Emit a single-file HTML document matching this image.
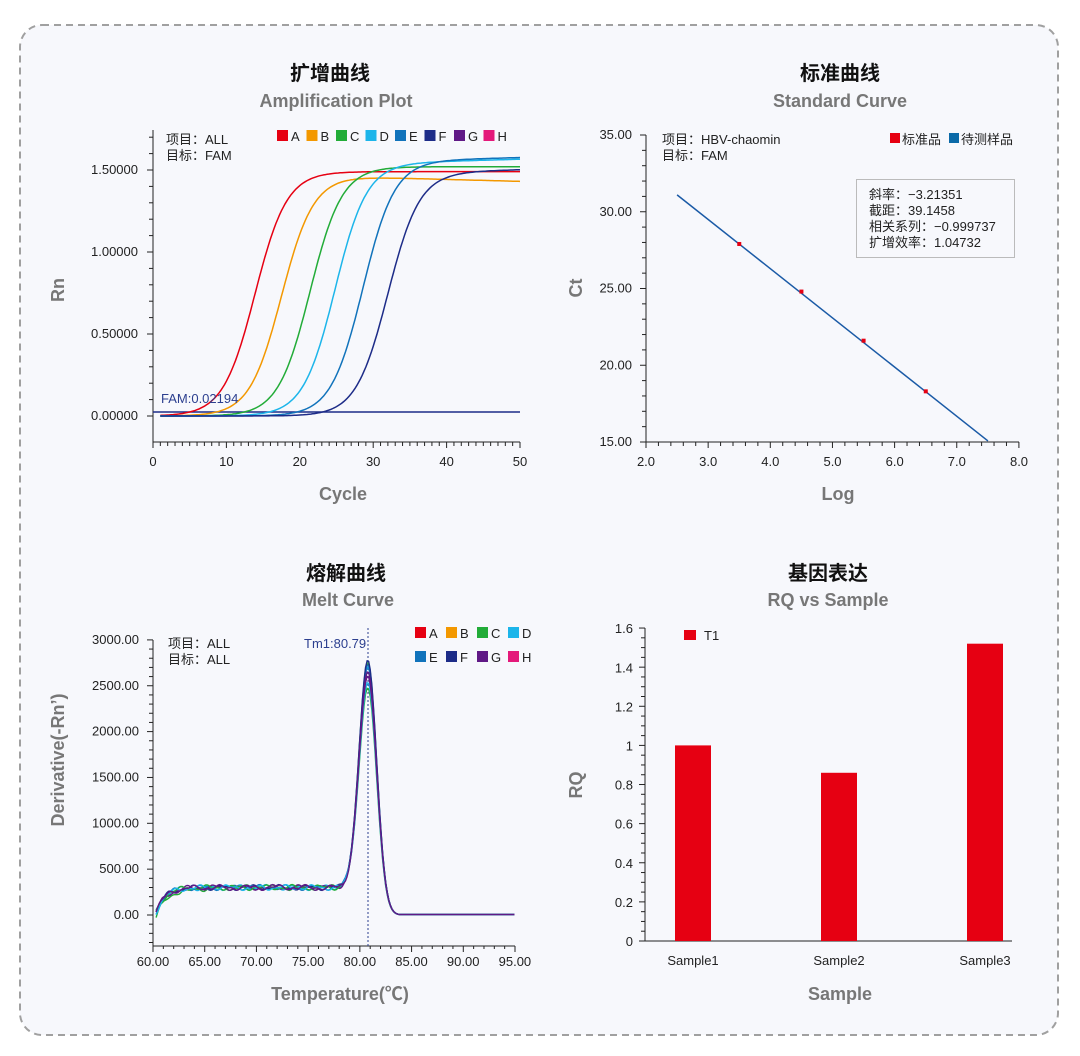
<!DOCTYPE html>
<html><head><meta charset="utf-8"><style>
html,body{margin:0;padding:0;background:#fff;}
svg{display:block;font-family:"Liberation Sans","Noto Sans CJK SC",sans-serif;}
</style></head><body>
<svg id="s" width="1080" height="1056" viewBox="0 0 1080 1056" xmlns="http://www.w3.org/2000/svg">
<rect x="20" y="25" width="1038" height="1010" rx="22" fill="#f7f8fc" stroke="#a0a0a0" stroke-width="2" stroke-dasharray="7,5"/>
<g font-weight="bold" text-anchor="middle">
<text x="330" y="80" font-size="20" fill="#111">扩增曲线</text>
<text x="336" y="107" font-size="18" fill="#777">Amplification Plot</text>
<text x="840" y="80" font-size="20" fill="#111">标准曲线</text>
<text x="840" y="107" font-size="18" fill="#777">Standard Curve</text>
<text x="346" y="580" font-size="20" fill="#111">熔解曲线</text>
<text x="348" y="606" font-size="18" fill="#777">Melt Curve</text>
<text x="828" y="580" font-size="20" fill="#111">基因表达</text>
<text x="828" y="606" font-size="18" fill="#777">RQ vs Sample</text>
<text x="343" y="500" font-size="18" fill="#777">Cycle</text>
<text x="838" y="500" font-size="18" fill="#777">Log</text>
<text x="340" y="1000" font-size="18" fill="#777">Temperature(℃)</text>
<text x="840" y="1000" font-size="18" fill="#777">Sample</text>
<text transform="translate(64,290) rotate(-90)" font-size="18" fill="#777">Rn</text>
<text transform="translate(582,288) rotate(-90)" font-size="18" fill="#777">Ct</text>
<text transform="translate(64,760) rotate(-90)" font-size="18" fill="#777">Derivative(-Rn’)</text>
<text transform="translate(582,785) rotate(-90)" font-size="18" fill="#777">RQ</text>
</g>
<g id="g"></g>
</svg>
<script>
var g=document.getElementById('g'),h='';
function L(x1,y1,x2,y2,c,w,extra){h+='<line x1="'+x1+'" y1="'+y1+'" x2="'+x2+'" y2="'+y2+'" stroke="'+(c||'#222')+'" stroke-width="'+(w||1)+'" '+(extra||'')+'/>';}
function T(x,y,t,a,s,c){h+='<text x="'+x+'" y="'+y+'" text-anchor="'+(a||'start')+'" font-size="'+(s||13)+'" fill="'+(c||'#222')+'">'+t+'</text>';}
function P(pts,c,w){h+='<polyline fill="none" stroke="'+c+'" stroke-width="'+(w||1.5)+'" points="'+pts.map(function(p){return p[0].toFixed(1)+','+p[1].toFixed(1)}).join(' ')+'"/>';}
function R(x,y,w,hh,c){h+='<rect x="'+x+'" y="'+y+'" width="'+w+'" height="'+hh+'" fill="'+c+'"/>';}
var cols=['#e60012','#f39800','#22ac38','#1cb5ea','#1173bb','#1d2c88','#601986','#e4197a'],names='ABCDEFGH';
// Plot 1
L(153,130,153,442);L(153,442,520,442);
for(var i=0;i<=19;i++){var y=416-i*16.4;if(y<130)break;L(i%5==0?147:149,y,153,y);}
for(var i=0;i<=50;i++){var x=153+i*7.34;L(x,442,x,i%10==0?448:446);if(i%10==0)T(x,466,i,'middle',13);}
['0.00000','0.50000','1.00000','1.50000'].forEach(function(t,i){T(138,420-i*82,t,'end',13);});
T(166,144,'项目：ALL');T(166,160,'目标：FAM');
for(var i=0;i<8;i++){R(277+i*29.5,130,11,11,cols[i]);T(291+i*29.5,141,names[i],'start',13);}
var mids=[13.9,17.5,21.4,24.8,28.6,32.0],plat=[1.49,1.46,1.52,1.545,1.56,1.49];
L(153,412,520,412,'#1d2c88',1.5);
for(var k=0;k<6;k++){var pts=[];for(var c=1;c<=50;c+=0.25){var v=plat[k]/(1+Math.exp(-(c-mids[k])*0.46));if(k==1&&c>mids[k]+8)v-=(c-mids[k]-8)*0.0012;if(k>=3)v+=(c-mids[k]>8?(c-mids[k]-8)*0.0012:0);pts.push([153+c*7.34,416-v*164]);}P(pts,cols[k]);}
T(161,403,'FAM:0.02194','start',13,'#2c3f8f');
// Plot 2
L(646,135,646,442);L(646,442,1019,442);
for(var i=0;i<=20;i++){var y=442-i*15.35;L(i%5==0?640:642,y,646,y);}
['15.00','20.00','25.00','30.00','35.00'].forEach(function(t,i){T(632,446-i*76.75,t,'end',13);});
for(var i=0;i<=30;i++){var x=646+i*12.43;L(x,442,x,i%5==0?448:446);}
['2.0','3.0','4.0','5.0','6.0','7.0','8.0'].forEach(function(t,i){T(646+i*62.17,466,t,'middle',13);});
T(662,144,'项目：HBV-chaomin');T(662,160,'目标：FAM');
R(890,133,10,10,'#e60012');T(902,144,'标准品');R(949,133,10,10,'#0b6aa8');T(961,144,'待测样品');
function sx(v){return 646+(v-2)*62.17}function sy(v){return 442-(v-15)*15.35}
L(sx(2.5),sy(31.1),sx(7.5),sy(15.07),'#1a5aa6',1.5);
[[3.5,27.9],[4.5,24.8],[5.5,21.6],[6.5,18.3]].forEach(function(p){R(sx(p[0])-2,sy(p[1])-2,4,4,'#e60012');});
h+='<rect x="856.5" y="179.5" width="158" height="78" fill="#f7f8fc" stroke="#bbb"/>';
T(869,199,'斜率：−3.21351');T(869,215,'截距：39.1458');T(869,231,'相关系列：−0.999737');T(869,247,'扩增效率：1.04732');
// Plot 3
L(153,640,153,946);L(153,946,515,946);
for(var i=-3;i<=30;i++){var y=915-i*9.17;if(y<636)break;L(i%5==0?147:149,y,153,y);}
['0.00','500.00','1000.00','1500.00','2000.00','2500.00','3000.00'].forEach(function(t,i){T(139,919-i*45.85,t,'end',13);});
for(var i=0;i<=35;i++){var x=153+i*10.343;L(x,946,x,i%5==0?952:949);}
for(var i=0;i<=7;i++)T(153+i*51.7,966,(60+i*5)+'.00','middle',13);
T(168,648,'项目：ALL');T(168,664,'目标：ALL');
T(304,648,'Tm1:80.79','start',13,'#2c3f8f');
for(var i=0;i<8;i++){var r=i<4?0:1,c=i%4;R(415+c*31,627+r*24,11,11,cols[i]);T(429+c*31,638+r*24,names[i],'start',13);}
L(368,628,368,946,'#2c3f8f',1,'stroke-dasharray="2,2"');
var pk=[2800,2750,2770,2820,2700,2520,2580,2650];
var mc=['#22ac38','#1cb5ea','#1173bb','#1d2c88','#601986','#22ac38','#1cb5ea','#601986'];
for(var k=0;k<8;k++){var pts=[];for(var t=60.3;t<=95;t+=0.15){var base=300*(1-Math.exp(-(t-60.2)*1.1))*(1/(1+Math.exp((t-81.5)*2.5)));base+=(k==0?-30:0)*Math.exp(-(t-62)*0.4);var noise=20*Math.sin(t*2.3+k*1.7)+12*Math.sin(t*5.3+k*2.9);noise*=1/(1+Math.exp((t-79)*2));var peak=(pk[k]-300)*Math.exp(-Math.pow(t-80.79,2)/(2*0.85*0.85));var v=base+noise+peak;if(t>83)v=Math.max(v,5);pts.push([153+(t-60)*10.343,915-v*0.0917]);}P(pts,mc[k],1.4);}
// Plot 4
L(645,628,645,941);L(645,941,1012,941);
for(var i=0;i<=32;i++){var y=941-i*9.78;L(i%4==0?639:641,y,645,y);}
['0','0.2','0.4','0.6','0.8','1','1.2','1.4','1.6'].forEach(function(t,i){T(633,946-i*39.1,t,'end',13);});
R(684,630,12,10,'#e60012');T(704,640,'T1');
[[675,1.0],[821,0.86],[967,1.52]].forEach(function(b,i){R(b[0],941-b[1]*195.6,36,b[1]*195.6,'#e60012');T(b[0]+18,965,'Sample'+(i+1),'middle',13);});
g.innerHTML=h;
</script>
</body></html>
